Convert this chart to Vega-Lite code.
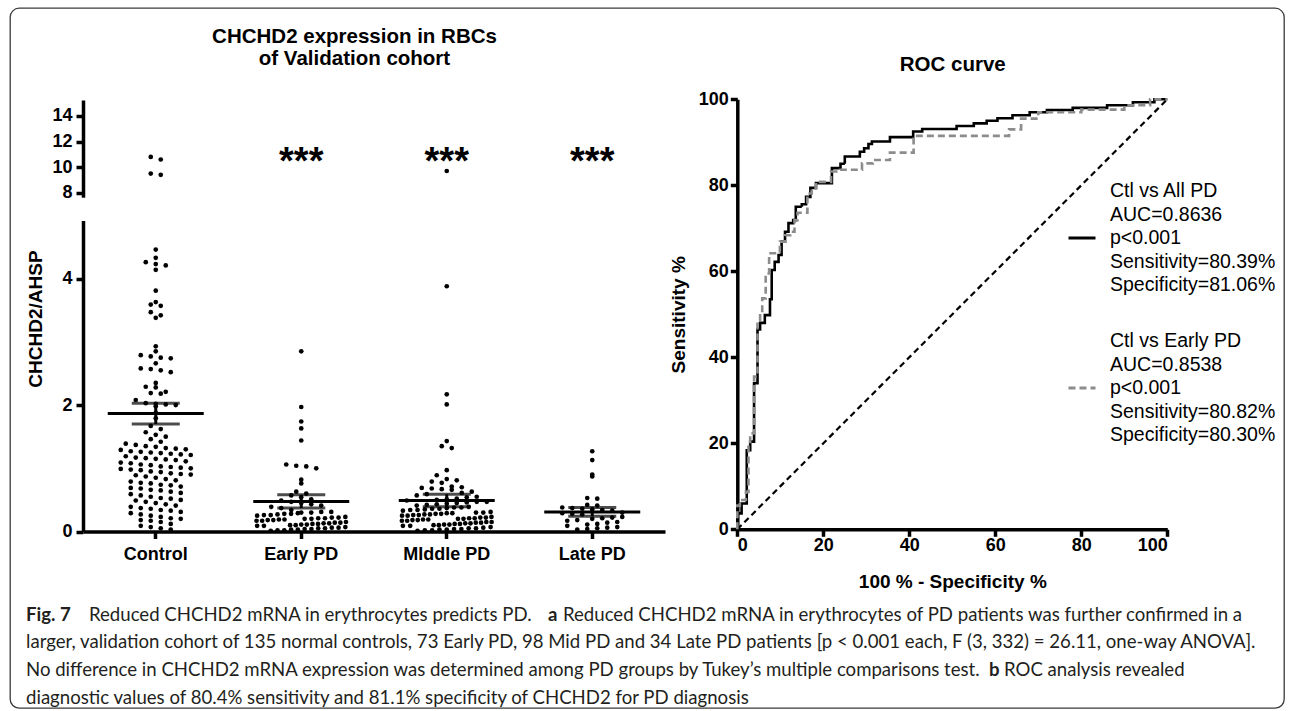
{
  "$schema": "https://vega.github.io/schema/vega-lite/v6.json",
  "width": 1274,
  "height": 700,
  "autosize": {"type": "none"},
  "padding": {"left": 10, "top": 8, "right": 9, "bottom": 3},
  "background": "white",
  "view": {"stroke": "#3a3a3a", "strokeWidth": 1.3, "cornerRadius": 9, "fill": "white"},
  "config": {
    "font": "Liberation Sans",
    "axis": {
      "domainColor": "black", "domainWidth": 3.5, "tickColor": "black", "tickWidth": 3.5, "tickSize": 7,
      "labelColor": "black", "labelFont": "Liberation Sans", "labelFontWeight": "bold", "labelFontSize": 18,
      "titleFont": "Liberation Sans", "titleFontWeight": "bold", "titleColor": "black", "grid": false
    }
  },
  "datasets": {
    "dots": [
      {"group":"Control","value":10.8},{"group":"Control","value":10.6},{"group":"Control","value":9.5},{"group":"Control","value":9.4},
      {"group":"Control","value":4.46},{"group":"Control","value":4.33},{"group":"Control","value":4.26},{"group":"Control","value":4.23},{"group":"Control","value":4.21},{"group":"Control","value":4.14},
      {"group":"Control","value":3.81},{"group":"Control","value":3.63},{"group":"Control","value":3.59},{"group":"Control","value":3.57},{"group":"Control","value":3.47},{"group":"Control","value":3.42},{"group":"Control","value":3.38},
      {"group":"Control","value":2.93},{"group":"Control","value":2.85},{"group":"Control","value":2.79},{"group":"Control","value":2.77},{"group":"Control","value":2.75},{"group":"Control","value":2.74},{"group":"Control","value":2.66},{"group":"Control","value":2.58},{"group":"Control","value":2.57},{"group":"Control","value":2.55},{"group":"Control","value":2.52},
      {"group":"Control","value":2.35},{"group":"Control","value":2.29},{"group":"Control","value":2.28},{"group":"Control","value":2.21},{"group":"Control","value":2.19},{"group":"Control","value":2.18},
      {"group":"Control","value":2.08},{"group":"Control","value":2.03},{"group":"Control","value":2.02},{"group":"Control","value":2.01},{"group":"Control","value":2.0},{"group":"Control","value":1.98},{"group":"Control","value":1.88},{"group":"Control","value":1.79},{"group":"Control","value":1.67},{"group":"Control","value":1.62},
      {"group":"Control","value":1.57},{"group":"Control","value":1.53},{"group":"Control","value":1.5},{"group":"Control","value":1.46},{"group":"Control","value":1.42},{"group":"Control","value":1.39},{"group":"Control","value":1.37},
      {"group":"Control","value":1.35},{"group":"Control","value":1.34},{"group":"Control","value":1.32},{"group":"Control","value":1.31},{"group":"Control","value":1.3},{"group":"Control","value":1.29},
      {"group":"Control","value":1.27},{"group":"Control","value":1.26},{"group":"Control","value":1.25},{"group":"Control","value":1.24},{"group":"Control","value":1.23},{"group":"Control","value":1.22},{"group":"Control","value":1.21},
      {"group":"Control","value":1.19},{"group":"Control","value":1.17},{"group":"Control","value":1.16},{"group":"Control","value":1.15},{"group":"Control","value":1.14},{"group":"Control","value":1.13},
      {"group":"Control","value":1.11},{"group":"Control","value":1.09},{"group":"Control","value":1.08},{"group":"Control","value":1.06},{"group":"Control","value":1.05},
      {"group":"Control","value":1.03},{"group":"Control","value":1.02},{"group":"Control","value":1.01},{"group":"Control","value":1.0},{"group":"Control","value":0.99},{"group":"Control","value":0.98},{"group":"Control","value":0.97},
      {"group":"Control","value":0.95},{"group":"Control","value":0.94},{"group":"Control","value":0.92},{"group":"Control","value":0.91},{"group":"Control","value":0.9},{"group":"Control","value":0.89},
      {"group":"Control","value":0.87},{"group":"Control","value":0.85},{"group":"Control","value":0.83},{"group":"Control","value":0.81},
      {"group":"Control","value":0.79},{"group":"Control","value":0.77},{"group":"Control","value":0.76},{"group":"Control","value":0.74},{"group":"Control","value":0.73},
      {"group":"Control","value":0.71},{"group":"Control","value":0.69},{"group":"Control","value":0.68},{"group":"Control","value":0.66},{"group":"Control","value":0.65},
      {"group":"Control","value":0.63},{"group":"Control","value":0.61},{"group":"Control","value":0.59},{"group":"Control","value":0.57},
      {"group":"Control","value":0.55},{"group":"Control","value":0.53},{"group":"Control","value":0.52},{"group":"Control","value":0.5},{"group":"Control","value":0.49},
      {"group":"Control","value":0.47},{"group":"Control","value":0.45},{"group":"Control","value":0.43},{"group":"Control","value":0.41},
      {"group":"Control","value":0.39},{"group":"Control","value":0.37},{"group":"Control","value":0.36},{"group":"Control","value":0.34},{"group":"Control","value":0.33},
      {"group":"Control","value":0.31},{"group":"Control","value":0.29},{"group":"Control","value":0.27},{"group":"Control","value":0.25},
      {"group":"Control","value":0.23},{"group":"Control","value":0.21},{"group":"Control","value":0.2},{"group":"Control","value":0.18},{"group":"Control","value":0.17},
      {"group":"Control","value":0.15},{"group":"Control","value":0.12},{"group":"Control","value":0.09},
      {"group":"Control","value":0.07},{"group":"Control","value":0.05},{"group":"Control","value":0.03},

      {"group":"Early PD","value":2.85},{"group":"Early PD","value":1.97},{"group":"Early PD","value":1.74},{"group":"Early PD","value":1.63},{"group":"Early PD","value":1.44},{"group":"Early PD","value":1.06},{"group":"Early PD","value":1.04},{"group":"Early PD","value":1.03},{"group":"Early PD","value":1.0},{"group":"Early PD","value":0.82},{"group":"Early PD","value":0.76},
      {"group":"Early PD","value":0.63},{"group":"Early PD","value":0.6},{"group":"Early PD","value":0.57},{"group":"Early PD","value":0.54},{"group":"Early PD","value":0.51},{"group":"Early PD","value":0.49},{"group":"Early PD","value":0.47},{"group":"Early PD","value":0.45},{"group":"Early PD","value":0.43},{"group":"Early PD","value":0.41},{"group":"Early PD","value":0.39},{"group":"Early PD","value":0.37},{"group":"Early PD","value":0.34},
      {"group":"Early PD","value":0.25},{"group":"Early PD","value":0.26},{"group":"Early PD","value":0.26},{"group":"Early PD","value":0.27},{"group":"Early PD","value":0.28},{"group":"Early PD","value":0.28},{"group":"Early PD","value":0.29},{"group":"Early PD","value":0.3},{"group":"Early PD","value":0.3},{"group":"Early PD","value":0.31},{"group":"Early PD","value":0.31},
      {"group":"Early PD","value":0.17},{"group":"Early PD","value":0.17},{"group":"Early PD","value":0.18},{"group":"Early PD","value":0.18},{"group":"Early PD","value":0.19},{"group":"Early PD","value":0.19},{"group":"Early PD","value":0.2},{"group":"Early PD","value":0.2},{"group":"Early PD","value":0.21},{"group":"Early PD","value":0.21},{"group":"Early PD","value":0.22},{"group":"Early PD","value":0.22},{"group":"Early PD","value":0.23},
      {"group":"Early PD","value":0.09},{"group":"Early PD","value":0.09},{"group":"Early PD","value":0.1},{"group":"Early PD","value":0.1},{"group":"Early PD","value":0.11},{"group":"Early PD","value":0.11},{"group":"Early PD","value":0.12},{"group":"Early PD","value":0.12},{"group":"Early PD","value":0.13},{"group":"Early PD","value":0.13},{"group":"Early PD","value":0.14},{"group":"Early PD","value":0.14},{"group":"Early PD","value":0.15},
      {"group":"Early PD","value":0.01},{"group":"Early PD","value":0.02},{"group":"Early PD","value":0.02},{"group":"Early PD","value":0.03},{"group":"Early PD","value":0.03},{"group":"Early PD","value":0.04},{"group":"Early PD","value":0.04},{"group":"Early PD","value":0.05},{"group":"Early PD","value":0.05},{"group":"Early PD","value":0.06},{"group":"Early PD","value":0.06},{"group":"Early PD","value":0.07},

      {"group":"MIddle PD","value":9.7},{"group":"MIddle PD","value":3.88},{"group":"MIddle PD","value":2.17},{"group":"MIddle PD","value":2.01},{"group":"MIddle PD","value":1.43},{"group":"MIddle PD","value":1.35},{"group":"MIddle PD","value":1.32},{"group":"MIddle PD","value":0.97},{"group":"MIddle PD","value":0.89},{"group":"MIddle PD","value":0.83},{"group":"MIddle PD","value":0.81},{"group":"MIddle PD","value":0.79},{"group":"MIddle PD","value":0.77},{"group":"MIddle PD","value":0.71},{"group":"MIddle PD","value":0.7},{"group":"MIddle PD","value":0.69},{"group":"MIddle PD","value":0.68},{"group":"MIddle PD","value":0.67},{"group":"MIddle PD","value":0.66},
      {"group":"MIddle PD","value":0.57},{"group":"MIddle PD","value":0.59},{"group":"MIddle PD","value":0.61},{"group":"MIddle PD","value":0.63},
      {"group":"MIddle PD","value":0.49},{"group":"MIddle PD","value":0.5},{"group":"MIddle PD","value":0.51},{"group":"MIddle PD","value":0.52},{"group":"MIddle PD","value":0.54},{"group":"MIddle PD","value":0.55},
      {"group":"MIddle PD","value":0.41},{"group":"MIddle PD","value":0.42},{"group":"MIddle PD","value":0.43},{"group":"MIddle PD","value":0.44},{"group":"MIddle PD","value":0.45},{"group":"MIddle PD","value":0.46},{"group":"MIddle PD","value":0.47},{"group":"MIddle PD","value":0.47},
      {"group":"MIddle PD","value":0.33},{"group":"MIddle PD","value":0.34},{"group":"MIddle PD","value":0.34},{"group":"MIddle PD","value":0.35},{"group":"MIddle PD","value":0.36},{"group":"MIddle PD","value":0.36},{"group":"MIddle PD","value":0.37},{"group":"MIddle PD","value":0.38},{"group":"MIddle PD","value":0.38},{"group":"MIddle PD","value":0.39},
      {"group":"MIddle PD","value":0.25},{"group":"MIddle PD","value":0.25},{"group":"MIddle PD","value":0.26},{"group":"MIddle PD","value":0.26},{"group":"MIddle PD","value":0.27},{"group":"MIddle PD","value":0.27},{"group":"MIddle PD","value":0.28},{"group":"MIddle PD","value":0.28},{"group":"MIddle PD","value":0.29},{"group":"MIddle PD","value":0.29},{"group":"MIddle PD","value":0.3},{"group":"MIddle PD","value":0.3},{"group":"MIddle PD","value":0.31},
      {"group":"MIddle PD","value":0.17},{"group":"MIddle PD","value":0.17},{"group":"MIddle PD","value":0.18},{"group":"MIddle PD","value":0.18},{"group":"MIddle PD","value":0.19},{"group":"MIddle PD","value":0.19},{"group":"MIddle PD","value":0.2},{"group":"MIddle PD","value":0.2},{"group":"MIddle PD","value":0.21},{"group":"MIddle PD","value":0.21},{"group":"MIddle PD","value":0.22},{"group":"MIddle PD","value":0.22},{"group":"MIddle PD","value":0.23},
      {"group":"MIddle PD","value":0.09},{"group":"MIddle PD","value":0.09},{"group":"MIddle PD","value":0.1},{"group":"MIddle PD","value":0.1},{"group":"MIddle PD","value":0.11},{"group":"MIddle PD","value":0.11},{"group":"MIddle PD","value":0.12},{"group":"MIddle PD","value":0.12},{"group":"MIddle PD","value":0.13},{"group":"MIddle PD","value":0.13},{"group":"MIddle PD","value":0.14},{"group":"MIddle PD","value":0.14},{"group":"MIddle PD","value":0.15},{"group":"MIddle PD","value":0.15},
      {"group":"MIddle PD","value":0.01},{"group":"MIddle PD","value":0.02},{"group":"MIddle PD","value":0.02},{"group":"MIddle PD","value":0.03},{"group":"MIddle PD","value":0.03},{"group":"MIddle PD","value":0.04},{"group":"MIddle PD","value":0.04},{"group":"MIddle PD","value":0.05},{"group":"MIddle PD","value":0.05},{"group":"MIddle PD","value":0.06},{"group":"MIddle PD","value":0.07},

      {"group":"Late PD","value":1.27},{"group":"Late PD","value":1.13},{"group":"Late PD","value":0.9},{"group":"Late PD","value":0.87},{"group":"Late PD","value":0.53},{"group":"Late PD","value":0.52},{"group":"Late PD","value":0.42},{"group":"Late PD","value":0.41},{"group":"Late PD","value":0.38},{"group":"Late PD","value":0.37},{"group":"Late PD","value":0.36},{"group":"Late PD","value":0.35},{"group":"Late PD","value":0.34},{"group":"Late PD","value":0.33},{"group":"Late PD","value":0.3},{"group":"Late PD","value":0.29},{"group":"Late PD","value":0.28},{"group":"Late PD","value":0.27},
      {"group":"Late PD","value":0.17},{"group":"Late PD","value":0.18},{"group":"Late PD","value":0.2},{"group":"Late PD","value":0.21},{"group":"Late PD","value":0.22},{"group":"Late PD","value":0.23},
      {"group":"Late PD","value":0.09},{"group":"Late PD","value":0.11},{"group":"Late PD","value":0.12},{"group":"Late PD","value":0.14},{"group":"Late PD","value":0.15},
      {"group":"Late PD","value":0.03},{"group":"Late PD","value":0.04},{"group":"Late PD","value":0.05},{"group":"Late PD","value":0.06},{"group":"Late PD","value":0.07}
    ],
    "stats": [
      {"group":"Control","mean":1.865,"sem":0.165},
      {"group":"Early PD","mean":0.475,"sem":0.105},
      {"group":"MIddle PD","mean":0.49,"sem":0.1},
      {"group":"Late PD","mean":0.31,"sem":0.068}
    ],
    "stars": [
      {"group":"Early PD","label":"***","value":10.9},
      {"group":"MIddle PD","label":"***","value":10.9},
      {"group":"Late PD","label":"***","value":10.9}
    ],
    "diag": [{"fpr":0,"tpr":0},{"fpr":100,"tpr":100}],
    "roc": [
      {"series":"Ctl vs All PD","fpr":0,"tpr":0},{"series":"Ctl vs All PD","fpr":0,"tpr":3.7},{"series":"Ctl vs All PD","fpr":1.0,"tpr":3.7},{"series":"Ctl vs All PD","fpr":1.0,"tpr":6.0},{"series":"Ctl vs All PD","fpr":2.2,"tpr":6.0},{"series":"Ctl vs All PD","fpr":2.2,"tpr":18.4},{"series":"Ctl vs All PD","fpr":3.0,"tpr":18.4},{"series":"Ctl vs All PD","fpr":3.0,"tpr":20.4},{"series":"Ctl vs All PD","fpr":3.9,"tpr":20.4},{"series":"Ctl vs All PD","fpr":3.9,"tpr":34.0},{"series":"Ctl vs All PD","fpr":4.7,"tpr":34.0},{"series":"Ctl vs All PD","fpr":4.7,"tpr":46.5},{"series":"Ctl vs All PD","fpr":5.3,"tpr":46.5},{"series":"Ctl vs All PD","fpr":5.3,"tpr":48.0},{"series":"Ctl vs All PD","fpr":6.4,"tpr":48.0},{"series":"Ctl vs All PD","fpr":6.4,"tpr":49.8},{"series":"Ctl vs All PD","fpr":7.6,"tpr":49.8},{"series":"Ctl vs All PD","fpr":7.6,"tpr":53.5},{"series":"Ctl vs All PD","fpr":8.0,"tpr":53.5},{"series":"Ctl vs All PD","fpr":8.0,"tpr":60.3},{"series":"Ctl vs All PD","fpr":8.7,"tpr":60.3},{"series":"Ctl vs All PD","fpr":8.7,"tpr":62.2},{"series":"Ctl vs All PD","fpr":9.6,"tpr":62.2},{"series":"Ctl vs All PD","fpr":9.6,"tpr":63.8},{"series":"Ctl vs All PD","fpr":10.3,"tpr":63.8},{"series":"Ctl vs All PD","fpr":10.3,"tpr":66.9},{"series":"Ctl vs All PD","fpr":11.1,"tpr":66.9},{"series":"Ctl vs All PD","fpr":11.1,"tpr":69.2},{"series":"Ctl vs All PD","fpr":11.9,"tpr":69.2},{"series":"Ctl vs All PD","fpr":11.9,"tpr":71.2},{"series":"Ctl vs All PD","fpr":13.0,"tpr":71.2},{"series":"Ctl vs All PD","fpr":13.0,"tpr":71.9},{"series":"Ctl vs All PD","fpr":13.6,"tpr":71.9},{"series":"Ctl vs All PD","fpr":13.6,"tpr":75.0},{"series":"Ctl vs All PD","fpr":15.0,"tpr":75.0},{"series":"Ctl vs All PD","fpr":15.0,"tpr":75.6},{"series":"Ctl vs All PD","fpr":16.0,"tpr":75.6},{"series":"Ctl vs All PD","fpr":16.0,"tpr":77.3},{"series":"Ctl vs All PD","fpr":17.0,"tpr":77.3},{"series":"Ctl vs All PD","fpr":17.0,"tpr":79.4},{"series":"Ctl vs All PD","fpr":18.3,"tpr":79.4},{"series":"Ctl vs All PD","fpr":18.3,"tpr":80.5},{"series":"Ctl vs All PD","fpr":22.0,"tpr":80.5},{"series":"Ctl vs All PD","fpr":22.0,"tpr":84.0},{"series":"Ctl vs All PD","fpr":24.0,"tpr":84.0},{"series":"Ctl vs All PD","fpr":24.0,"tpr":85.0},{"series":"Ctl vs All PD","fpr":25.0,"tpr":85.0},{"series":"Ctl vs All PD","fpr":25.0,"tpr":86.7},{"series":"Ctl vs All PD","fpr":28.5,"tpr":86.7},{"series":"Ctl vs All PD","fpr":28.5,"tpr":87.8},{"series":"Ctl vs All PD","fpr":29.5,"tpr":87.8},{"series":"Ctl vs All PD","fpr":29.5,"tpr":88.6},{"series":"Ctl vs All PD","fpr":30.5,"tpr":88.6},{"series":"Ctl vs All PD","fpr":30.5,"tpr":89.6},{"series":"Ctl vs All PD","fpr":31.3,"tpr":89.6},{"series":"Ctl vs All PD","fpr":31.3,"tpr":90.2},{"series":"Ctl vs All PD","fpr":35.5,"tpr":90.2},{"series":"Ctl vs All PD","fpr":35.5,"tpr":91.2},{"series":"Ctl vs All PD","fpr":40.9,"tpr":91.2},{"series":"Ctl vs All PD","fpr":40.9,"tpr":92.5},{"series":"Ctl vs All PD","fpr":43.0,"tpr":92.5},{"series":"Ctl vs All PD","fpr":43.0,"tpr":93.1},{"series":"Ctl vs All PD","fpr":51.0,"tpr":93.1},{"series":"Ctl vs All PD","fpr":51.0,"tpr":93.8},{"series":"Ctl vs All PD","fpr":55.0,"tpr":93.8},{"series":"Ctl vs All PD","fpr":55.0,"tpr":94.4},{"series":"Ctl vs All PD","fpr":58.0,"tpr":94.4},{"series":"Ctl vs All PD","fpr":58.0,"tpr":95.0},{"series":"Ctl vs All PD","fpr":60.5,"tpr":95.0},{"series":"Ctl vs All PD","fpr":60.5,"tpr":95.6},{"series":"Ctl vs All PD","fpr":64,"tpr":95.6},{"series":"Ctl vs All PD","fpr":64,"tpr":96.3},{"series":"Ctl vs All PD","fpr":68,"tpr":96.3},{"series":"Ctl vs All PD","fpr":68,"tpr":97.0},{"series":"Ctl vs All PD","fpr":72,"tpr":97.0},{"series":"Ctl vs All PD","fpr":72,"tpr":97.5},{"series":"Ctl vs All PD","fpr":78,"tpr":97.5},{"series":"Ctl vs All PD","fpr":78,"tpr":98.0},{"series":"Ctl vs All PD","fpr":86,"tpr":98.0},{"series":"Ctl vs All PD","fpr":86,"tpr":98.6},{"series":"Ctl vs All PD","fpr":92,"tpr":98.6},{"series":"Ctl vs All PD","fpr":92,"tpr":99.3},{"series":"Ctl vs All PD","fpr":97,"tpr":99.3},{"series":"Ctl vs All PD","fpr":97,"tpr":100},{"series":"Ctl vs All PD","fpr":100,"tpr":100},
      {"series":"Ctl vs Early PD","fpr":0,"tpr":0},{"series":"Ctl vs Early PD","fpr":0,"tpr":5.5},{"series":"Ctl vs Early PD","fpr":0.6,"tpr":5.5},{"series":"Ctl vs Early PD","fpr":0.6,"tpr":6.8},{"series":"Ctl vs Early PD","fpr":2.0,"tpr":6.8},{"series":"Ctl vs Early PD","fpr":2.0,"tpr":8.7},{"series":"Ctl vs Early PD","fpr":2.6,"tpr":8.7},{"series":"Ctl vs Early PD","fpr":2.6,"tpr":20.0},{"series":"Ctl vs Early PD","fpr":3.0,"tpr":20.0},{"series":"Ctl vs Early PD","fpr":3.0,"tpr":22.3},{"series":"Ctl vs Early PD","fpr":3.9,"tpr":22.3},{"series":"Ctl vs Early PD","fpr":3.9,"tpr":35.5},{"series":"Ctl vs Early PD","fpr":4.7,"tpr":35.5},{"series":"Ctl vs Early PD","fpr":4.7,"tpr":48.7},{"series":"Ctl vs Early PD","fpr":5.3,"tpr":48.7},{"series":"Ctl vs Early PD","fpr":5.3,"tpr":50.2},{"series":"Ctl vs Early PD","fpr":5.8,"tpr":50.2},{"series":"Ctl vs Early PD","fpr":5.8,"tpr":53.7},{"series":"Ctl vs Early PD","fpr":6.6,"tpr":53.7},{"series":"Ctl vs Early PD","fpr":6.6,"tpr":59.5},{"series":"Ctl vs Early PD","fpr":7.4,"tpr":59.5},{"series":"Ctl vs Early PD","fpr":7.4,"tpr":64.2},{"series":"Ctl vs Early PD","fpr":9.9,"tpr":64.2},{"series":"Ctl vs Early PD","fpr":9.9,"tpr":66.9},{"series":"Ctl vs Early PD","fpr":11.1,"tpr":66.9},{"series":"Ctl vs Early PD","fpr":11.1,"tpr":68.4},{"series":"Ctl vs Early PD","fpr":12.3,"tpr":68.4},{"series":"Ctl vs Early PD","fpr":12.3,"tpr":69.2},{"series":"Ctl vs Early PD","fpr":13.3,"tpr":69.2},{"series":"Ctl vs Early PD","fpr":13.3,"tpr":71.9},{"series":"Ctl vs Early PD","fpr":14.0,"tpr":71.9},{"series":"Ctl vs Early PD","fpr":14.0,"tpr":73.6},{"series":"Ctl vs Early PD","fpr":16.3,"tpr":73.6},{"series":"Ctl vs Early PD","fpr":16.3,"tpr":78.1},{"series":"Ctl vs Early PD","fpr":17.3,"tpr":78.1},{"series":"Ctl vs Early PD","fpr":17.3,"tpr":79.3},{"series":"Ctl vs Early PD","fpr":18.3,"tpr":79.3},{"series":"Ctl vs Early PD","fpr":18.3,"tpr":80.8},{"series":"Ctl vs Early PD","fpr":21.8,"tpr":80.8},{"series":"Ctl vs Early PD","fpr":21.8,"tpr":83.2},{"series":"Ctl vs Early PD","fpr":23.9,"tpr":83.2},{"series":"Ctl vs Early PD","fpr":23.9,"tpr":83.6},{"series":"Ctl vs Early PD","fpr":29.0,"tpr":83.6},{"series":"Ctl vs Early PD","fpr":29.0,"tpr":85.1},{"series":"Ctl vs Early PD","fpr":31.5,"tpr":85.1},{"series":"Ctl vs Early PD","fpr":31.5,"tpr":85.9},{"series":"Ctl vs Early PD","fpr":35.5,"tpr":85.9},{"series":"Ctl vs Early PD","fpr":35.5,"tpr":87.6},{"series":"Ctl vs Early PD","fpr":41.0,"tpr":87.6},{"series":"Ctl vs Early PD","fpr":41.0,"tpr":91.5},{"series":"Ctl vs Early PD","fpr":63.2,"tpr":91.5},{"series":"Ctl vs Early PD","fpr":63.2,"tpr":93.0},{"series":"Ctl vs Early PD","fpr":66,"tpr":93.0},{"series":"Ctl vs Early PD","fpr":66,"tpr":95.5},{"series":"Ctl vs Early PD","fpr":70,"tpr":95.5},{"series":"Ctl vs Early PD","fpr":70,"tpr":97.0},{"series":"Ctl vs Early PD","fpr":80,"tpr":97.0},{"series":"Ctl vs Early PD","fpr":80,"tpr":97.6},{"series":"Ctl vs Early PD","fpr":90,"tpr":97.6},{"series":"Ctl vs Early PD","fpr":90,"tpr":98.6},{"series":"Ctl vs Early PD","fpr":96,"tpr":98.6},{"series":"Ctl vs Early PD","fpr":96,"tpr":100},{"series":"Ctl vs Early PD","fpr":100,"tpr":100}
    ],
    "caption": [
      {"line":1,"part":"fig","text":"Fig. 7"},
      {"line":1,"part":"p1","text":"Reduced CHCHD2 mRNA in erythrocytes predicts PD."},
      {"line":1,"part":"a","text":"a"},
      {"line":1,"part":"p2","text":"Reduced CHCHD2 mRNA in erythrocytes of PD patients was further confirmed in a"},
      {"line":2,"part":"plain","text":"larger, validation cohort of 135 normal controls, 73 Early PD, 98 Mid PD and 34 Late PD patients [p < 0.001 each, F (3, 332) = 26.11, one-way ANOVA]."},
      {"line":3,"part":"plain","text":"No difference in CHCHD2 mRNA expression was determined among PD groups by Tukey’s multiple comparisons test."},
      {"line":3,"part":"b","text":"b"},
      {"line":3,"part":"p3","text":"ROC analysis revealed"},
      {"line":4,"part":"plain","text":"diagnostic values of 80.4% sensitivity and 81.1% specificity of CHCHD2 for PD diagnosis"}
    ]
  },
  "layer": [
    {
      "data": {"name": "dots"},
      "transform": [
        {"filter": "datum.value > 6"},
        {"calculate": "floor(datum.value)", "as": "bin"},
        {"window": [{"op": "row_number", "as": "rn"}], "groupby": ["group", "bin"]},
        {"joinaggregate": [{"op": "count", "as": "n"}], "groupby": ["group", "bin"]},
        {"calculate": "(datum.rn - 1 - (datum.n - 1) / 2) * min(1, 9.5 / datum.n)", "as": "off"}
      ],
      "mark": {"type": "circle", "size": 22, "opacity": 1, "color": "black"},
      "encoding": {
        "x": {"field": "group", "type": "nominal", "sort": null,
          "scale": {"domain": ["Control", "Early PD", "MIddle PD", "Late PD"], "range": [73, 655], "paddingInner": 0, "paddingOuter": 0},
          "axis": {"orient": "top", "offset": 0, "domain": false, "ticks": false, "labels": false,
            "title": ["CHCHD2 expression in RBCs", "of Validation cohort"], "titleFontSize": 20.5, "titleLineHeight": 22,
            "titleX": 344, "titleY": 18, "titleBaseline": "top", "titleAlign": "center", "titleAngle": 0}},
        "xOffset": {"field": "off", "type": "quantitative", "scale": {"domain": [-5, 5], "range": [22.75, 122.75]}},
        "y": {"field": "value", "type": "quantitative",
          "scale": {"domain": [7.65, 15.25], "range": [189.2, 92], "nice": false, "zero": false},
          "axis": {"orient": "left", "offset": -73, "values": [8, 10, 12, 14], "title": null, "labelPadding": 4, "domainWidth": 3.5, "tickWidth": 3.5}}
      }
    },
    {
      "data": {"name": "stars"},
      "mark": {"type": "text", "fontSize": 38, "fontWeight": "bold", "baseline": "middle", "dy": 7, "color": "black"},
      "encoding": {
        "x": {"field": "group", "type": "nominal", "sort": null,
          "scale": {"domain": ["Control", "Early PD", "MIddle PD", "Late PD"], "range": [73, 655], "paddingInner": 0, "paddingOuter": 0}, "axis": null},
        "y": {"field": "value", "type": "quantitative",
          "scale": {"domain": [7.65, 15.25], "range": [189.2, 92], "nice": false, "zero": false}, "axis": null},
        "text": {"field": "label"}
      }
    },
    {
      "data": {"name": "dots"},
      "transform": [
        {"filter": "datum.value <= 6"},
        {"calculate": "floor(datum.value / 0.1 + 1e-9)", "as": "bin"},
        {"window": [{"op": "row_number", "as": "rn"}], "groupby": ["group", "bin"]},
        {"joinaggregate": [{"op": "count", "as": "n"}], "groupby": ["group", "bin"]},
        {"calculate": "(datum.rn - 1 - (datum.n - 1) / 2) * min(1, 9.5 / datum.n)", "as": "off"}
      ],
      "mark": {"type": "circle", "size": 22, "opacity": 1, "color": "black"},
      "encoding": {
        "x": {"field": "group", "type": "nominal", "sort": null,
          "scale": {"domain": ["Control", "Early PD", "MIddle PD", "Late PD"], "range": [73, 655], "paddingInner": 0, "paddingOuter": 0},
          "axis": {"orient": "bottom", "offset": -176.5, "title": null, "labelAngle": 0, "labelPadding": 7, "domainWidth": 3.5, "tickWidth": 3.5}},
        "xOffset": {"field": "off", "type": "quantitative", "scale": {"domain": [-5, 5], "range": [22.75, 122.75]}},
        "y": {"field": "value", "type": "quantitative",
          "scale": {"domain": [0, 4.92], "range": [523.5, 212.5], "nice": false, "zero": false},
          "axis": {"orient": "left", "offset": -73, "values": [0, 2, 4], "title": "CHCHD2/AHSP", "titleFontSize": 19,
            "titleX": -48, "titleY": 310.5, "titleBaseline": "middle", "titleAngle": 270, "titleAlign": "center", "labelPadding": 4, "domainWidth": 3.5, "tickWidth": 3.5}}
      }
    },
    {
      "data": {"name": "stats"},
      "mark": {"type": "errorbar", "ticks": true, "size": 48, "thickness": 3, "color": "black", "rule": {"strokeWidth": 3}},
      "encoding": {
        "x": {"field": "group", "type": "nominal", "sort": null,
          "scale": {"domain": ["Control", "Early PD", "MIddle PD", "Late PD"], "range": [73, 655], "paddingInner": 0, "paddingOuter": 0}, "axis": null},
        "y": {"field": "mean", "type": "quantitative",
          "scale": {"domain": [0, 4.92], "range": [523.5, 212.5], "nice": false, "zero": false}, "axis": null},
        "yError": {"field": "sem"}
      }
    },
    {
      "data": {"name": "stats"},
      "mark": {"type": "tick", "size": 96, "thickness": 3, "color": "black", "opacity": 1},
      "encoding": {
        "x": {"field": "group", "type": "nominal", "sort": null,
          "scale": {"domain": ["Control", "Early PD", "MIddle PD", "Late PD"], "range": [73, 655], "paddingInner": 0, "paddingOuter": 0}, "axis": null},
        "y": {"field": "mean", "type": "quantitative",
          "scale": {"domain": [0, 4.92], "range": [523.5, 212.5], "nice": false, "zero": false}, "axis": null}
      }
    },
    {
      "data": {"name": "diag"},
      "mark": {"type": "line", "strokeDash": [6, 4], "strokeWidth": 2.2, "color": "black"},
      "encoding": {
        "x": {"field": "fpr", "type": "quantitative",
          "scale": {"domain": [0, 100], "range": [727.3, 1157.3], "nice": false, "zero": false},
          "axis": {"orient": "top", "offset": 0, "domain": false, "ticks": false, "labels": false,
            "title": "ROC curve", "titleFontSize": 20.5, "titleX": 942.3, "titleY": 62, "titleBaseline": "alphabetic", "titleAlign": "center", "titleAngle": 0}},
        "y": {"field": "tpr", "type": "quantitative",
          "scale": {"domain": [0, 100], "range": [521.3, 91.3], "nice": false, "zero": false}, "axis": null}
      }
    },
    {
      "data": {"name": "roc"},
      "mark": {"type": "line", "strokeWidth": 2.6, "interpolate": "linear"},
      "encoding": {
        "x": {"field": "fpr", "type": "quantitative",
          "scale": {"domain": [0, 100], "range": [727.3, 1157.3], "nice": false, "zero": false},
          "axis": {"orient": "bottom", "offset": -178.7, "values": [0, 20, 40, 60, 80, 100], "title": "100 % - Specificity %", "titleFontSize": 19,
            "titleX": 942.3, "titleY": 52.4, "titleBaseline": "middle", "titleAlign": "center", "labelPadding": 0, "domainWidth": 3.5, "tickWidth": 3.5}},
        "y": {"field": "tpr", "type": "quantitative",
          "scale": {"domain": [0, 100], "range": [521.3, 91.3], "nice": false, "zero": false},
          "axis": {"orient": "left", "offset": -727.3, "values": [0, 20, 40, 60, 80, 100], "title": "Sensitivity %", "titleFontSize": 19,
            "titleX": -59.3, "titleY": 306.3, "titleBaseline": "middle", "titleAngle": 270, "titleAlign": "center", "labelPadding": 2, "domainWidth": 3.5, "tickWidth": 3.5}},
        "color": {"field": "series", "type": "nominal",
          "scale": {"domain": ["Ctl vs All PD", "Ctl vs Early PD"], "range": ["#000000", "#8c8c8c"]},
          "legend": {"orient": "none", "legendX": 1057, "legendY": 215, "title": null, "padding": 0,
            "labelExpr": "datum.label === 'Ctl vs All PD' ? ['Ctl vs All PD', 'AUC=0.8636', 'p<0.001', 'Sensitivity=80.39%', 'Specificity=81.06%'] : ['Ctl vs Early PD', 'AUC=0.8538', 'p<0.001', 'Sensitivity=80.82%', 'Specificity=80.30%']",
            "labelFont": "Liberation Sans", "labelFontSize": 19.5, "labelColor": "black", "labelLimit": 400, "labelOffset": 13, "rowPadding": 36,
            "symbolType": "stroke", "symbolSize": 729, "symbolStrokeWidth": 3,
            "encoding": {"labels": {"lineHeight": {"value": 23.5}, "dy": {"value": -47}}}}},
        "strokeDash": {"field": "series", "type": "nominal",
          "scale": {"domain": ["Ctl vs All PD", "Ctl vs Early PD"], "range": [[1, 0], [7, 4]]},
          "legend": {"orient": "none", "legendX": 1057, "legendY": 215, "title": null, "padding": 0,
            "labelExpr": "datum.label === 'Ctl vs All PD' ? ['Ctl vs All PD', 'AUC=0.8636', 'p<0.001', 'Sensitivity=80.39%', 'Specificity=81.06%'] : ['Ctl vs Early PD', 'AUC=0.8538', 'p<0.001', 'Sensitivity=80.82%', 'Specificity=80.30%']",
            "labelFont": "Liberation Sans", "labelFontSize": 19.5, "labelColor": "black", "labelLimit": 400, "labelOffset": 13, "rowPadding": 36,
            "symbolType": "stroke", "symbolSize": 729, "symbolStrokeWidth": 3,
            "encoding": {"labels": {"lineHeight": {"value": 23.5}, "dy": {"value": -47}}}}},
        "order": [{"field": "fpr", "type": "quantitative"}, {"field": "tpr", "type": "quantitative"}]
      }
    },
    {
      "data": {"name": "caption"},
      "transform": [{"filter": "datum.part === 'fig'"}],
      "mark": {"type": "text", "align": "left", "baseline": "middle", "font": "Lato", "fontSize": 18.6, "fontWeight": "bold", "color": "#231f20"},
      "encoding": {
        "x": {"datum": 0, "type": "quantitative", "scale": {"domain": [0, 1], "range": [16, 1270]}, "axis": null},
        "y": {"field": "line", "type": "quantitative", "scale": {"domain": [1, 4], "range": [606.5, 689.5]}, "axis": null},
        "text": {"field": "text"}
      }
    },
    {
      "data": {"name": "caption"},
      "transform": [{"filter": "datum.part === 'p1'"}],
      "mark": {"type": "text", "align": "left", "baseline": "middle", "font": "Lato", "fontSize": 18.6, "dx": 63, "color": "#231f20"},
      "encoding": {
        "x": {"datum": 0, "type": "quantitative", "scale": {"domain": [0, 1], "range": [16, 1270]}, "axis": null},
        "y": {"field": "line", "type": "quantitative", "scale": {"domain": [1, 4], "range": [606.5, 689.5]}, "axis": null},
        "text": {"field": "text"}
      }
    },
    {
      "data": {"name": "caption"},
      "transform": [{"filter": "datum.part === 'a'"}],
      "mark": {"type": "text", "align": "left", "baseline": "middle", "font": "Lato", "fontSize": 18.6, "fontWeight": "bold", "dx": 522, "color": "#231f20"},
      "encoding": {
        "x": {"datum": 0, "type": "quantitative", "scale": {"domain": [0, 1], "range": [16, 1270]}, "axis": null},
        "y": {"field": "line", "type": "quantitative", "scale": {"domain": [1, 4], "range": [606.5, 689.5]}, "axis": null},
        "text": {"field": "text"}
      }
    },
    {
      "data": {"name": "caption"},
      "transform": [{"filter": "datum.part === 'p2'"}],
      "mark": {"type": "text", "align": "left", "baseline": "middle", "font": "Lato", "fontSize": 18.6, "dx": 537, "color": "#231f20"},
      "encoding": {
        "x": {"datum": 0, "type": "quantitative", "scale": {"domain": [0, 1], "range": [16, 1270]}, "axis": null},
        "y": {"field": "line", "type": "quantitative", "scale": {"domain": [1, 4], "range": [606.5, 689.5]}, "axis": null},
        "text": {"field": "text"}
      }
    },
    {
      "data": {"name": "caption"},
      "transform": [{"filter": "datum.part === 'plain'"}],
      "mark": {"type": "text", "align": "left", "baseline": "middle", "font": "Lato", "fontSize": 18.6, "color": "#231f20"},
      "encoding": {
        "x": {"datum": 0, "type": "quantitative", "scale": {"domain": [0, 1], "range": [16, 1270]}, "axis": null},
        "y": {"field": "line", "type": "quantitative", "scale": {"domain": [1, 4], "range": [606.5, 689.5]}, "axis": null},
        "text": {"field": "text"}
      }
    },
    {
      "data": {"name": "caption"},
      "transform": [{"filter": "datum.part === 'b'"}],
      "mark": {"type": "text", "align": "left", "baseline": "middle", "font": "Lato", "fontSize": 18.6, "fontWeight": "bold", "dx": 963, "color": "#231f20"},
      "encoding": {
        "x": {"datum": 0, "type": "quantitative", "scale": {"domain": [0, 1], "range": [16, 1270]}, "axis": null},
        "y": {"field": "line", "type": "quantitative", "scale": {"domain": [1, 4], "range": [606.5, 689.5]}, "axis": null},
        "text": {"field": "text"}
      }
    },
    {
      "data": {"name": "caption"},
      "transform": [{"filter": "datum.part === 'p3'"}],
      "mark": {"type": "text", "align": "left", "baseline": "middle", "font": "Lato", "fontSize": 18.6, "dx": 978, "color": "#231f20"},
      "encoding": {
        "x": {"datum": 0, "type": "quantitative", "scale": {"domain": [0, 1], "range": [16, 1270]}, "axis": null},
        "y": {"field": "line", "type": "quantitative", "scale": {"domain": [1, 4], "range": [606.5, 689.5]}, "axis": null},
        "text": {"field": "text"}
      }
    }
  ],
  "resolve": {
    "scale": {"x": "independent", "y": "independent", "xOffset": "independent"},
    "axis": {"x": "independent", "y": "independent"}
  }
}
